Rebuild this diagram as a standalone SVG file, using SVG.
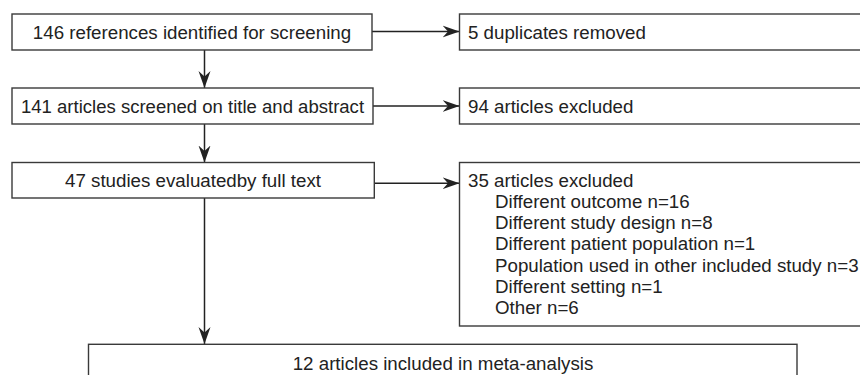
<svg xmlns="http://www.w3.org/2000/svg" width="860" height="375" viewBox="0 0 860 375">
<defs>
<style>
.box{fill:#fff;stroke:#3a3a3a;stroke-width:1.4}
.t{font-family:"Liberation Sans",Arial,Helvetica,sans-serif;font-size:17.5px;fill:#222}
.c{text-anchor:middle}
.ln{stroke:#222;stroke-width:1.5;fill:none;marker-end:url(#ah)}
</style>
<marker id="ah" markerUnits="userSpaceOnUse" viewBox="-17 -7 18 14" refX="0" refY="0" markerWidth="18" markerHeight="14" orient="auto">
<path d="M0,0 L-17,-6 L-11.5,0 L-17,6 Z" fill="#222"/>
</marker>
</defs>
<rect width="860" height="375" fill="#fff"/>
<g id="connectors">
<line class="ln" x1="204.5" y1="50" x2="204.5" y2="88"/>
<line class="ln" x1="204.5" y1="124" x2="204.5" y2="162.5"/>
<line class="ln" x1="204.5" y1="198" x2="204.5" y2="344"/>
<line class="ln" x1="372" y1="31.5" x2="459.5" y2="31.5"/>
<line class="ln" x1="373" y1="106" x2="459.5" y2="106"/>
<line class="ln" x1="374.5" y1="183.3" x2="459.5" y2="183.3"/>
</g>
<g id="n1">
<rect class="box" x="12" y="14" width="360" height="36"/>
<text class="t c" transform="translate(192,38.8) scale(1.07,1)">146 references identified for screening</text>
</g>
<g id="n2">
<rect class="box" x="12" y="88" width="361" height="36"/>
<text class="t c" transform="translate(192.5,112.7) scale(1.06,1)">141 articles screened on title and abstract</text>
</g>
<g id="n3">
<rect class="box" x="12" y="162.5" width="362.3" height="35.5"/>
<text class="t c" transform="translate(193,186.8) scale(1.07,1)">47 studies evaluatedby full text</text>
</g>
<g id="r1">
<rect class="box" x="459.5" y="14" width="420" height="36"/>
<text class="t" transform="translate(468,38.5) scale(1.07,1)">5 duplicates removed</text>
</g>
<g id="r2">
<rect class="box" x="459.5" y="88" width="420" height="36"/>
<text class="t" transform="translate(468,112.7) scale(1.07,1)">94 articles excluded</text>
</g>
<g id="r3">
<rect class="box" x="459.5" y="162.5" width="420" height="163.5"/>
<text class="t" transform="translate(468,186.7) scale(1.07,1)">35 articles excluded</text>
<text class="t" transform="translate(495,207.9) scale(1.07,1)">Different outcome n=16</text>
<text class="t" transform="translate(495,229.1) scale(1.07,1)">Different study design n=8</text>
<text class="t" transform="translate(495,250.3) scale(1.07,1)">Different patient population n=1</text>
<text class="t" transform="translate(495,271.5) scale(1.07,1)">Population used in other included study n=3</text>
<text class="t" transform="translate(495,292.7) scale(1.07,1)">Different setting n=1</text>
<text class="t" transform="translate(495,313.9) scale(1.07,1)">Other n=6</text>
</g>
<g id="n4">
<rect class="box" x="88.5" y="344.3" width="708.5" height="45"/>
<text class="t c" transform="translate(443,369.5) scale(1.07,1)">12 articles included in meta-analysis</text>
</g>
</svg>
